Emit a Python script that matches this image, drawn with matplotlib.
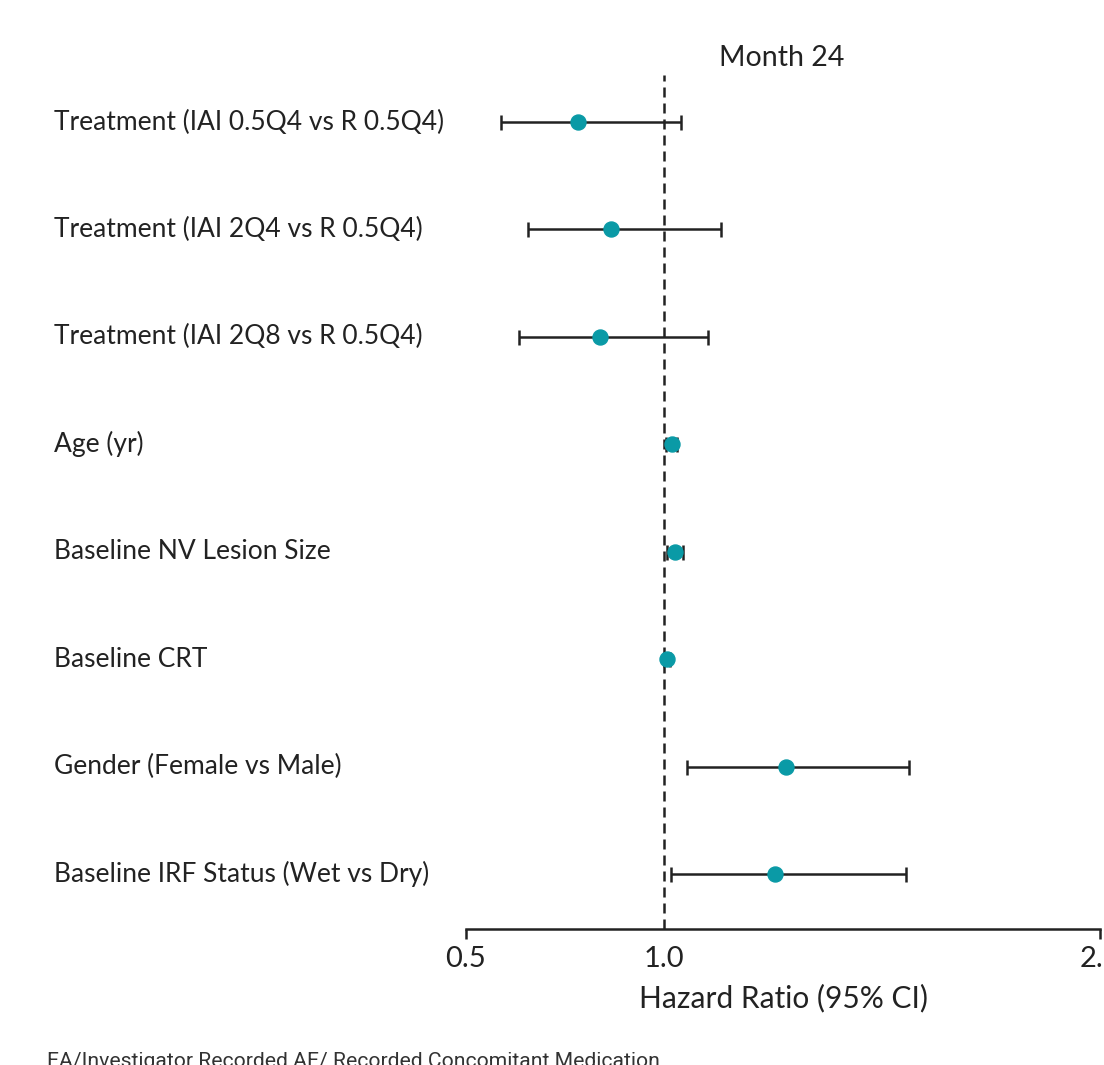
import matplotlib
matplotlib.use("Agg")
import matplotlib.pyplot as plt
from matplotlib.transforms import blended_transform_factory

# Hazard ratios with 95% confidence limits, top row first
labels = [
    "Treatment (IAI 0.5Q4 vs R 0.5Q4)",
    "Treatment (IAI 2Q4 vs R 0.5Q4)",
    "Treatment (IAI 2Q8 vs R 0.5Q4)",
    "Age (yr)",
    "Baseline NV Lesion Size",
    "Baseline CRT",
    "Gender (Female vs Male)",
    "Baseline IRF Status (Wet vs Dry)",
]
hr = [0.783, 0.866, 0.838, 1.020, 1.028, 1.007, 1.308, 1.280]
ci_low = [0.588, 0.657, 0.634, 1.005, 1.008, 0.999, 1.058, 1.018]
ci_high = [1.043, 1.144, 1.111, 1.033, 1.048, 1.015, 1.619, 1.611]

tick_values = [0.5, 1.0, 2.1]
tick_labels = ["0.5", "1.0", "2.1"]

plt.rcParams["font.family"] = ["Lato", "DejaVu Sans"]
ink = "#222222"
teal = "#0a9aa6"

fig = plt.figure(figsize=(11.04, 10.65), dpi=100)
ax = fig.add_axes([0.4221, 0.1277, 0.9964 - 0.4221, 0.9296 - 0.1277])

rows = list(range(len(labels)))
err_lo = [h - lo for h, lo in zip(hr, ci_low)]
err_hi = [hi - h for h, hi in zip(hr, ci_high)]

ax.axvline(1.0, color=ink, lw=1.8, linestyle=(0, (4, 2.4)), zorder=1)
ax.errorbar(hr, rows, xerr=[err_lo, err_hi], fmt="none", ecolor=ink,
            elinewidth=1.8, capsize=5.4, capthick=1.8, zorder=2)
ax.plot(hr, rows, "o", color=teal, markersize=10.8, zorder=3)

ax.set_xlim(0.5, 2.1)
ax.set_ylim(7.512, -0.4375)

for s in ["top", "right", "left"]:
    ax.spines[s].set_visible(False)
ax.spines["bottom"].set_linewidth(1.8)
ax.spines["bottom"].set_color(ink)
ax.set_yticks([])
ax.set_xticks(tick_values)
ax.set_xticklabels(tick_labels)
ax.tick_params(axis="x", direction="out", length=7.5, width=1.8, color=ink,
               labelsize=21, labelcolor=ink, pad=5)
ax.xaxis.get_major_ticks()[1].tick1line.set_visible(False)
ax.set_xlabel("Hazard Ratio (95% CI)", fontsize=21.5, color=ink, labelpad=8)

# row labels on the left, anchored in figure x / data y
trans = blended_transform_factory(fig.transFigure, ax.transData)
for r, name in zip(rows, labels):
    ax.text(54 / 1104, r, name, transform=trans, ha="left", va="center",
            fontsize=19, color=ink)

fig.text(0.708, 0.9455, "Month 24", ha="center", va="center",
         fontsize=20.5, color=ink)

fig.text(47 / 1104, 1 - 1052 / 1065,
         "EA/Investigator Recorded AE/ Recorded Concomitant Medication",
         ha="left", va="top", fontsize=15.2, color="#333333",
         family=["Roboto", "DejaVu Sans"])

fig.savefig("out.png", dpi=100)
